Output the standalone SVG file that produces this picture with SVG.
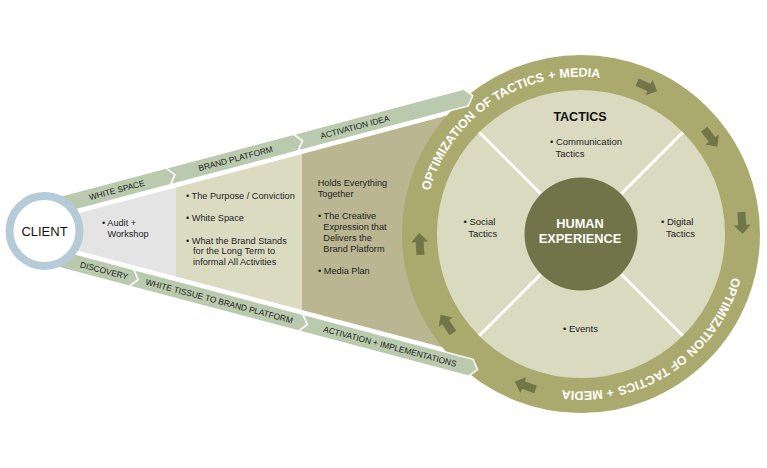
<svg xmlns="http://www.w3.org/2000/svg" width="767" height="468" viewBox="0 0 767 468">
<style>
 .t{font-family:"Liberation Sans",Arial,sans-serif;font-size:9.2px;fill:#1e1e1e}
 .tt{font-family:"Liberation Sans",Arial,sans-serif;font-size:9.5px;fill:#1e1e1e}
 .bn{fill:#bacaae;stroke:#fff;stroke-width:1.5;stroke-linejoin:miter}
 .bt{font-family:"Liberation Sans",Arial,sans-serif;font-size:8.4px;fill:#1a1a1a;text-anchor:middle}
 .rt{font-family:"Liberation Sans",Arial,sans-serif;font-size:12.5px;font-weight:bold;fill:#fff}
 .ar{fill:#727548}
 .dv{stroke:#fff;stroke-width:3}
</style>
<defs>
 <path id="arrow" d="M-11,-4 H2 V-8.5 L11,0 L2,8.5 V4 H-11 Z"/>
 <path id="arcTop" d="M445,312.5 A157,157 0 0 1 706.4,139.5"/>
 <path id="arcBot" d="M717,155.5 A157,157 0 0 1 455.6,328.5"/>
</defs>
<rect width="767" height="468" fill="#fff"/>

<g id="region-discovery">
 <polygon points="60,218.1 176,187.4 176,276.6 60,245.9" fill="#e4e4e4"/>
 <text class="t" x="102" y="226">• Audit +</text>
 <text class="t" x="107.5" y="237">Workshop</text>
</g>
<g id="region-brand-platform">
 <polygon points="176,187.4 302,154 302,310 176,276.6" fill="#dbdbc1"/>
 <text class="t" x="186" y="198.5">• The Purpose / Conviction</text>
 <text class="t" x="186" y="221">• White Space</text>
 <text class="t" x="186" y="243.5">• What the Brand Stands</text>
 <text class="t" x="193" y="254">for the Long Term to</text>
 <text class="t" x="193" y="265">informal All Activities</text>
</g>
<g id="region-activation">
 <polygon points="302,154 520,96.2 520,367.8 302,310" fill="#b9b691"/>
 <text class="t" x="317.7" y="186">Holds Everything</text>
 <text class="t" x="317.7" y="196.5">Together</text>
 <text class="t" x="318" y="218.5">• The Creative</text>
 <text class="t" x="323.3" y="229.5">Expression that</text>
 <text class="t" x="323.3" y="240.5">Delivers the</text>
 <text class="t" x="323.3" y="251.5">Brand Platform</text>
 <text class="t" x="318" y="273.5">• Media Plan</text>
</g>

<g id="tactics-wheel">
 <circle cx="581" cy="234" r="161.5" fill="#dadac0" stroke="#abaa6e" stroke-width="35"/>
 <line class="dv" x1="540.7" y1="193.7" x2="479.2" y2="132.2"/>
 <line class="dv" x1="621.3" y1="193.7" x2="682.8" y2="132.2"/>
 <line class="dv" x1="540.7" y1="274.3" x2="479.2" y2="335.8"/>
 <line class="dv" x1="621.3" y1="274.3" x2="682.8" y2="335.8"/>
 <text class="rt"><textPath href="#arcTop" startOffset="125.7">OPTIMIZATION</textPath></text>
 <text class="rt"><textPath href="#arcTop" startOffset="218.8">OF</textPath></text>
 <text class="rt"><textPath href="#arcTop" startOffset="239.6">TACTICS</textPath></text>
 <text class="rt"><textPath href="#arcTop" startOffset="297.2">+ MEDIA</textPath></text>
 <text class="rt"><textPath href="#arcBot" startOffset="125.7">OPTIMIZATION</textPath></text>
 <text class="rt"><textPath href="#arcBot" startOffset="218.8">OF</textPath></text>
 <text class="rt"><textPath href="#arcBot" startOffset="239.6">TACTICS</textPath></text>
 <text class="rt"><textPath href="#arcBot" startOffset="297.2">+ MEDIA</textPath></text>
 <use href="#arrow" class="ar" transform="translate(647.2,86.7) rotate(24.2)"/>
 <use href="#arrow" class="ar" transform="translate(710.8,137.9) rotate(53.5)"/>
 <use href="#arrow" class="ar" transform="translate(742.1,223) rotate(86.1)"/>
 <use href="#arrow" class="ar" transform="translate(419.8,243.9) rotate(266.5)"/>
 <use href="#arrow" class="ar" transform="translate(446.8,323.8) rotate(236.2)"/>
 <use href="#arrow" class="ar" transform="translate(525.2,385.6) rotate(200.2)"/>
 <text x="580" y="121" text-anchor="middle" style="font-family:'Liberation Sans',Arial,sans-serif;font-size:12.5px;font-weight:bold;fill:#111">TACTICS</text>
</g>
<g id="communication-tactics">
 <text class="tt" x="550" y="145">• Communication</text>
 <text class="tt" x="555.5" y="157">Tactics</text>
</g>
<g id="social-tactics">
 <text class="tt" x="463.5" y="225">• Social</text>
 <text class="tt" x="468.3" y="236.5">Tactics</text>
</g>
<g id="digital-tactics">
 <text class="tt" x="661" y="225">• Digital</text>
 <text class="tt" x="666" y="236.5">Tactics</text>
</g>
<g id="events">
 <text class="tt" x="563" y="332">• Events</text>
</g>
<g id="human-experience">
 <circle cx="581" cy="234" r="56.5" fill="#707448"/>
 <text x="580" y="228" text-anchor="middle" style="font-family:'Liberation Sans',Arial,sans-serif;font-size:12.8px;font-weight:bold;fill:#fff">HUMAN</text>
 <text x="580" y="243" text-anchor="middle" style="font-family:'Liberation Sans',Arial,sans-serif;font-size:12.8px;font-weight:bold;fill:#fff">EXPERIENCE</text>
</g>

<g id="connectors">
 <g id="upper-banner" transform="translate(60,205.1) rotate(-14.84)">
  <path class="bn" d="M-12,-8.7 H112 L119,0 L112,8.7 H-12 L-5,0 Z"/>
  <path class="bn" d="M112,-8.7 H244 L251,0 L244,8.7 H112 L119,0 Z"/>
  <path class="bn" d="M244,-8.7 H420 L427,0 L420,8.7 H244 L251,0 Z"/>
  <text class="bt" x="58.7" y="3">WHITE SPACE</text>
  <text class="bt" x="181.6" y="3">BRAND PLATFORM</text>
  <text class="bt" x="305" y="3">ACTIVATION IDEA</text>
 </g>
 <g id="lower-banner" transform="translate(60,258.9) rotate(14.84)">
  <path class="bn" d="M-12,-8.7 H74 L81,0 L74,8.7 H-12 L-5,0 Z"/>
  <path class="bn" d="M74,-8.7 H249 L256,0 L249,8.7 H74 L81,0 Z"/>
  <path class="bn" d="M249,-8.7 H425 L432,0 L425,8.7 H249 L256,0 Z"/>
  <text class="bt" x="45.7" y="3">DISCOVERY</text>
  <text class="bt" x="164.7" y="3">WHITE TISSUE TO BRAND PLATFORM</text>
  <text class="bt" x="341.4" y="3">ACTIVATION + IMPLEMENTATIONS</text>
 </g>
</g>

<g id="client">
 <circle cx="44.5" cy="231" r="35" fill="#fff" stroke="#b5cbd8" stroke-width="8"/>
 <text x="44.5" y="235.7" text-anchor="middle" style="font-family:'Liberation Sans',Arial,sans-serif;font-size:13px;fill:#111">CLIENT</text>
</g>
</svg>
